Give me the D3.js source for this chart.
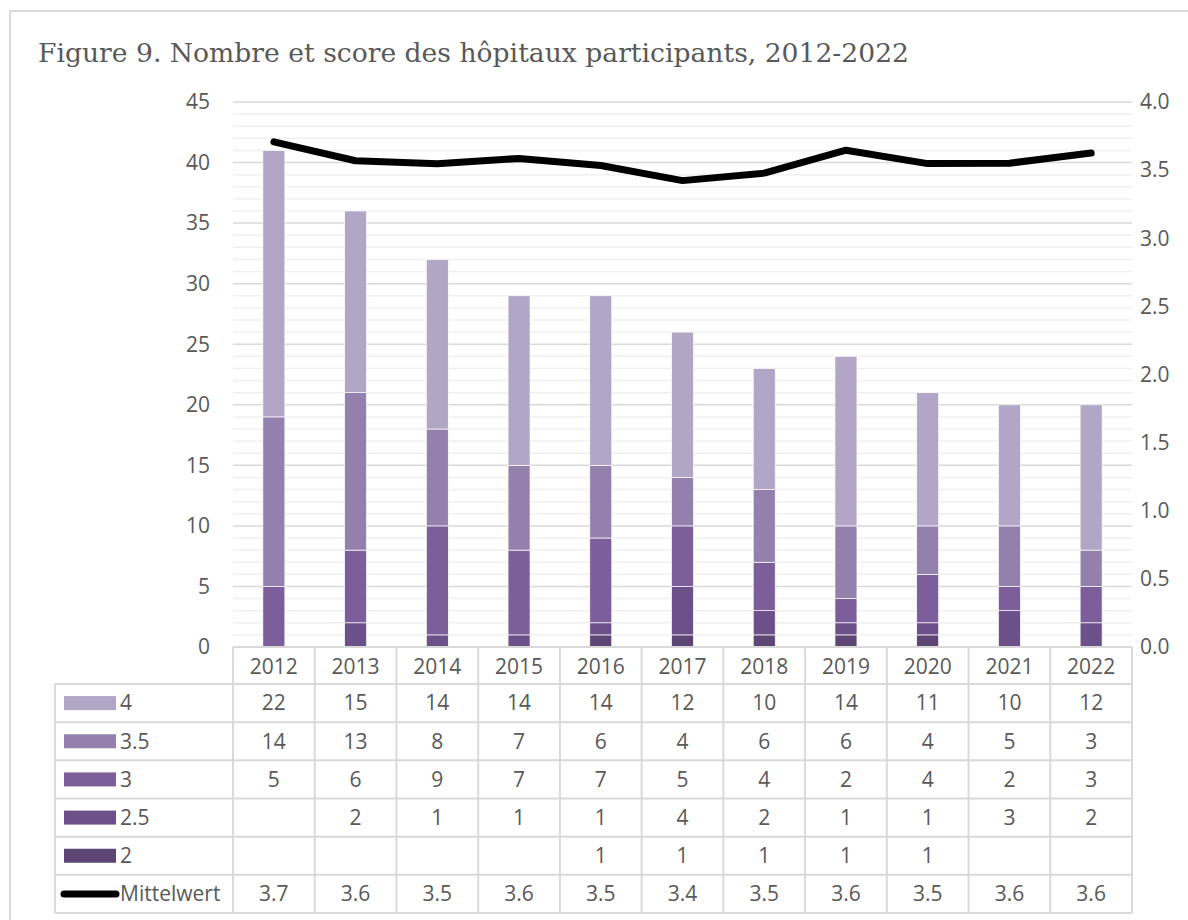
<!DOCTYPE html>
<meta charset="utf-8">
<style>
body { margin: 0; background: #fff; }
svg text { font-family: "Open Sans", sans-serif; fill: #595959; }
.title { font-family: "DejaVu Serif", serif; }
</style>
<svg width="1188" height="920"></svg>
<script src="https://d3js.org/d3.v7.min.js"></script>
<script>

// data
var years = ["2012","2013","2014","2015","2016","2017","2018","2019","2020","2021","2022"];
var score4  = [22, 15, 14, 14, 14, 12, 10, 14, 11, 10, 12];
var score35 = [14, 13, 8, 7, 6, 4, 6, 6, 4, 5, 3];
var score3  = [5, 6, 9, 7, 7, 5, 4, 2, 4, 2, 3];
var score25 = [null, 2, 1, 1, 1, 4, 2, 1, 1, 3, 2];
var score2  = [null, null, null, null, 1, 1, 1, 1, 1, null, null];
var mittelwert = [3.707, 3.569, 3.547, 3.586, 3.534, 3.423, 3.478, 3.646, 3.548, 3.551, 3.625];
var leftTicks = [0, 5, 10, 15, 20, 25, 30, 35, 40, 45];
var rightTicks = [0, 0.5, 1, 1.5, 2, 2.5, 3, 3.5, 4];

var series = [
  {name: "2",   vals: score2,  color: "#5d4574"},
  {name: "2.5", vals: score25, color: "#6b5089"},
  {name: "3",   vals: score3,  color: "#7c5e9a"},
  {name: "3.5", vals: score35, color: "#9380ad"},
  {name: "4",   vals: score4,  color: "#b1a6c5"}
];

var svg = d3.select("svg");
var fs = "21px";

// outer frame
svg.append("rect")
    .attr("x", 10).attr("y", 11)
    .attr("width", 1200).attr("height", 920)
    .attr("fill", "none").attr("stroke", "#d9d9d9").attr("stroke-width", 2);

svg.append("text")
    .attr("class", "title")
    .attr("x", 38).attr("y", 62)
    .style("font-size", "26.6px")
    .text("Figure 9. Nombre et score des hôpitaux participants, 2012-2022");

var x = d3.scaleBand().domain(years).range([233, 1132]);
var y = d3.scaleLinear().domain([0, 45]).range([647, 102]);
var y2 = d3.scaleLinear().domain([0, 4]).range([647, 102]);

// gridlines
svg.append("g").selectAll("line")
    .data(d3.range(0, 46).filter(function(d) { return d % 5 != 0; }))
    .enter().append("line")
      .attr("x1", 233).attr("x2", 1132)
      .attr("y1", function(d) { return y(d); })
      .attr("y2", function(d) { return y(d); })
      .attr("stroke", "#f0f0f0").attr("stroke-width", 1.5);

svg.append("g").selectAll("line")
    .data(leftTicks)
    .enter().append("line")
      .attr("x1", 233).attr("x2", 1132)
      .attr("y1", function(d) { return y(d); })
      .attr("y2", function(d) { return y(d); })
      .attr("stroke", "#d9d9d9").attr("stroke-width", 1.5);

// axes labels
svg.append("g").selectAll("text")
    .data(leftTicks)
    .enter().append("text")
      .attr("x", 210)
      .attr("y", function(d) { return y(d); })
      .attr("dy", "0.35em")
      .attr("text-anchor", "end")
      .style("font-size", fs)
      .text(function(d) { return d; });

svg.append("g").selectAll("text")
    .data(rightTicks)
    .enter().append("text")
      .attr("x", 1140)
      .attr("y", function(d) { return y2(d); })
      .attr("dy", "0.35em")
      .style("font-size", fs)
      .text(function(d) { return d3.format(".1f")(d); });

// stacked bars
var rows = years.map(function(yr, i) {
  var r = {year: yr};
  series.forEach(function(s) { r[s.name] = s.vals[i] || 0; });
  return r;
});
var stack = d3.stack().keys(series.map(function(s) { return s.name; }))(rows);

var barW = 22;
svg.append("g").selectAll("g")
    .data(stack)
    .enter().append("g")
      .attr("fill", function(d, i) { return series[i].color; })
    .selectAll("rect")
    .data(function(d) { return d; })
    .enter().append("rect")
      .filter(function(d) { return d[1] > d[0]; })
      .attr("x", function(d) { return x(d.data.year) + x.bandwidth() / 2 - barW / 2; })
      .attr("y", function(d) { return y(d[1]); })
      .attr("width", barW)
      .attr("height", function(d) { return y(d[0]) - y(d[1]); })
      .attr("stroke", "#fff").attr("stroke-width", 0.7);

// mean line
var line = d3.line()
    .x(function(d, i) { return x(years[i]) + x.bandwidth() / 2; })
    .y(function(d) { return y2(d); });

svg.append("path")
    .datum(mittelwert)
    .attr("d", line)
    .attr("fill", "none")
    .attr("stroke", "#000")
    .attr("stroke-width", 7)
    .attr("stroke-linecap", "round")
    .attr("stroke-linejoin", "round");

// data table
var gridColor = "#d9d9d9";
var headTop = 647, headBot = 684, rowH = (913 - 684) / 6;
var tableRows = [
  {name: "4", vals: score4, color: series[4].color},
  {name: "3.5", vals: score35, color: series[3].color},
  {name: "3", vals: score3, color: series[2].color},
  {name: "2.5", vals: score25, color: series[1].color},
  {name: "2", vals: score2, color: series[0].color},
  {name: "Mittelwert", vals: mittelwert, line: true}
];

var tbl = svg.append("g");

// horizontal lines
tbl.append("line")
    .attr("x1", 233).attr("x2", 1132).attr("y1", headTop).attr("y2", headTop)
    .attr("stroke", gridColor).attr("stroke-width", 2);
d3.range(0, 7).forEach(function(k) {
  tbl.append("line")
      .attr("x1", 55).attr("x2", 1132)
      .attr("y1", headBot + k * rowH).attr("y2", headBot + k * rowH)
      .attr("stroke", gridColor).attr("stroke-width", 2);
});
// vertical lines
tbl.append("line")
    .attr("x1", 55).attr("x2", 55).attr("y1", headBot).attr("y2", 913)
    .attr("stroke", gridColor).attr("stroke-width", 2);
years.concat(["end"]).forEach(function(yr, i) {
  var xx = i < years.length ? x(yr) : x.range()[1];
  tbl.append("line")
      .attr("x1", xx).attr("x2", xx).attr("y1", headTop).attr("y2", 913)
      .attr("stroke", gridColor).attr("stroke-width", 2);
});

// header years
tbl.selectAll("text.yr")
    .data(years)
    .enter().append("text")
      .attr("class", "yr")
      .attr("x", function(d) { return x(d) + x.bandwidth() / 2; })
      .attr("y", (headTop + headBot) / 2 + 1)
      .attr("dy", "0.35em")
      .attr("text-anchor", "middle")
      .style("font-size", fs)
      .text(function(d) { return d; });

tableRows.forEach(function(r, k) {
  var cy = headBot + k * rowH + rowH / 2;
  if (r.line) {
    tbl.append("line")
        .attr("x1", 64).attr("x2", 116).attr("y1", cy).attr("y2", cy)
        .attr("stroke", "#000").attr("stroke-width", 7).attr("stroke-linecap", "round");
  } else {
    tbl.append("rect")
        .attr("x", 64).attr("y", cy - 7).attr("width", 52).attr("height", 14)
        .attr("fill", r.color);
  }
  tbl.append("text")
      .attr("x", 120).attr("y", cy).attr("dy", "0.35em")
      .style("font-size", fs)
      .text(r.name);
  tbl.append("g").selectAll("text")
      .data(r.vals)
      .enter().append("text")
        .attr("x", function(d, i) { return x(years[i]) + x.bandwidth() / 2; })
        .attr("y", cy).attr("dy", "0.35em")
        .attr("text-anchor", "middle")
        .style("font-size", fs)
        .text(function(d) {
          if (d == null) return "";
          return r.line ? d3.format(".1f")(d) : d;
        });
});

</script>
